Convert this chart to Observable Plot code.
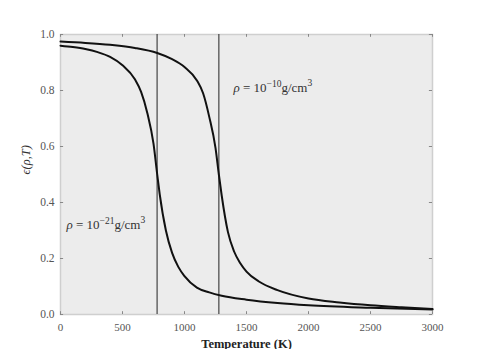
<!DOCTYPE html>
<html><head><meta charset="utf-8">
<script src="https://cdn.jsdelivr.net/npm/d3@7"></script>
<script src="https://cdn.jsdelivr.net/npm/@observablehq/plot@0.6"></script>
<style>body{margin:0;background:#fff} svg text{font-family:"Liberation Serif","DejaVu Serif",serif}</style>
</head><body><div id="chart"></div>
<script>
const tempA = [0,100,200,300,400,500,600,650,700,750,780,800,850,900,950,1000,1100,1200,1300,1500,1750,2000,2500,3000];
const epsA  = [0.960,0.955,0.948,0.937,0.920,0.890,0.840,0.795,0.720,0.610,0.500,0.430,0.300,0.220,0.170,0.137,0.096,0.079,0.067,0.053,0.041,0.033,0.024,0.018];
const tempB = [0,200,400,600,780,900,1000,1100,1150,1200,1250,1277,1300,1350,1400,1450,1500,1600,1750,2000,2250,2500,2750,3000];
const epsB  = [0.975,0.970,0.963,0.952,0.934,0.912,0.884,0.836,0.790,0.705,0.595,0.500,0.425,0.295,0.225,0.183,0.153,0.118,0.087,0.057,0.043,0.033,0.026,0.020];
const vlines = [779, 1277];
const xTicks = [0,500,1000,1500,2000,2500,3000];
const yTicks = [0,0.2,0.4,0.6,0.8,1.0];
const labels = [
  {T: 1395, e: 0.81, base: "10", exp: "−10", unit: "g/cm", unitExp: "3"},
  {T: 48, e: 0.32, base: "10", exp: "−21", unit: "g/cm", unitExp: "3"}
];
const A = tempA.map((t,i)=>({T:t,e:epsA[i]}));
const B = tempB.map((t,i)=>({T:t,e:epsB[i]}));
const font = "Liberation Serif";
const chart = Plot.plot({
  width: 480, height: 349,
  marginLeft: 60, marginRight: 48, marginTop: 34, marginBottom: 35,
  style: {fontSize: "11px", background: "#fff"},
  x: {domain: [0,3000]},
  y: {domain: [0,1]},
  marks: [
    Plot.frame({fill: "#ececec", stroke: "#cfcfcf", strokeWidth: 1.5}),
    Plot.axisX({ticks: xTicks, tickSize: 0, tickPadding: 9, tickFormat: d=>String(d), label: null, fill: "#555", fontSize: 11, fontFamily: font}),
    Plot.axisY({ticks: yTicks, tickSize: 0, tickPadding: 6, tickFormat: d=>d.toFixed(1), label: null, fill: "#555", fontSize: 11.5, fontFamily: font}),
    Plot.ruleX(xTicks, {x: d=>d, y1: 0, y2: 0.01, stroke: "#888"}),
    Plot.ruleX(xTicks, {x: d=>d, y1: 0.99, y2: 1, stroke: "#888"}),
    Plot.ruleY(yTicks, {y: d=>d, x1: 0, x2: 25, stroke: "#888"}),
    Plot.ruleY(yTicks, {y: d=>d, x1: 2975, x2: 3000, stroke: "#888"}),
    Plot.ruleX(vlines, {x: d=>d, y1: 0, y2: 1, stroke: "#444", strokeWidth: 1.2}),
    Plot.line(A, {x: "T", y: "e", stroke: "#111", strokeWidth: 2, curve: "monotone-x"}),
    Plot.line(B, {x: "T", y: "e", stroke: "#111", strokeWidth: 2, curve: "monotone-x"}),
    Plot.text(labels, {x: "T", y: "e", text: d => "ρ = " + d.base + d.exp + d.unit + d.unitExp, textAnchor: "start", fill: "#333", fontSize: 13, fontFamily: font, className: "rho-label"}),
    Plot.text(["Temperature (K)"], {frameAnchor: "bottom", lineAnchor: "middle", dy: 29, fontWeight: "bold", fontSize: 12.5, fill: "#222", fontFamily: font}),
    Plot.text(["ϵ(ρ,T)"], {frameAnchor: "left", lineAnchor: "middle", dx: -35, rotate: -90, fontStyle: "italic", fontSize: 12.5, fill: "#333", fontFamily: font})
  ]
});
d3.select(chart).selectAll(".rho-label text").each(function(_, i) {
  const d = labels[i];
  const t = d3.select(this);
  t.text(null);
  t.append("tspan").attr("font-style", "italic").text("ρ");
  t.append("tspan").text(" = " + d.base);
  t.append("tspan").attr("dy", "-5").attr("font-size", 9.5).text(d.exp);
  t.append("tspan").attr("dy", "5").text(d.unit);
  t.append("tspan").attr("dy", "-6").attr("font-size", 9.5).text(d.unitExp);
});
document.getElementById("chart").append(chart);
</script>
</body></html>
